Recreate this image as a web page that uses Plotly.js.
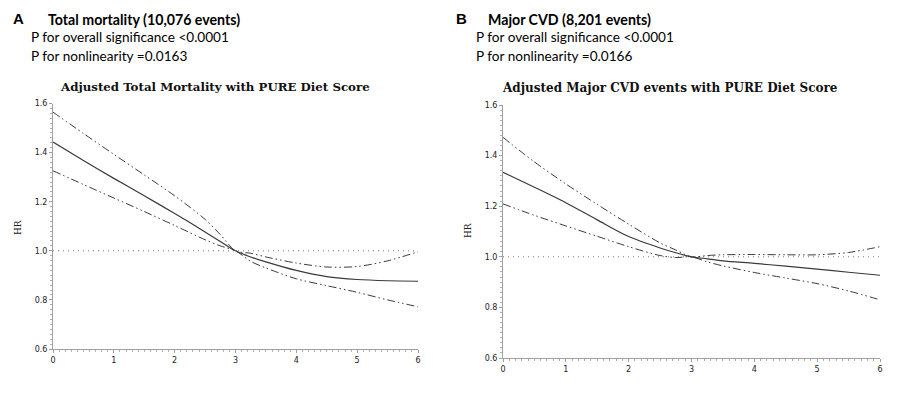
<!DOCTYPE html>
<html>
<head>
<meta charset="utf-8">
<script src="https://cdn.plot.ly/plotly-3.0.1.min.js"></script>
<style>
  html, body { margin: 0; padding: 0; background: #ffffff; }
  #chart { width: 907px; height: 395px; }
</style>
</head>
<body>
<div id="chart"></div>
<script>
// ---------- data ----------
const dietScore = [0, 0.5, 1, 1.5, 2, 2.5, 2.75, 3, 3.25, 3.5, 4, 4.5, 5, 5.5, 6];

// Panel A: Total mortality
const mortHR    = [1.443, 1.368, 1.295, 1.224, 1.152, 1.077, 1.038, 1.0, 0.975, 0.955, 0.920, 0.895, 0.883, 0.878, 0.876];
const mortUpper = [1.565, 1.478, 1.393, 1.309, 1.224, 1.128, 1.066, 1.0, 0.990, 0.975, 0.950, 0.934, 0.936, 0.959, 0.996];
const mortLower = [1.326, 1.270, 1.215, 1.160, 1.103, 1.045, 1.020, 1.0, 0.957, 0.930, 0.886, 0.858, 0.831, 0.800, 0.772];

// Panel B: Major CVD
const cvdHR    = [1.334, 1.275, 1.214, 1.146, 1.080, 1.035, 1.016, 1.0, 0.992, 0.984, 0.974, 0.963, 0.951, 0.939, 0.927];
const cvdUpper = [1.472, 1.375, 1.288, 1.207, 1.129, 1.055, 1.027, 1.0, 1.005, 1.008, 1.009, 1.008, 1.008, 1.017, 1.040];
const cvdLower = [1.209, 1.164, 1.122, 1.081, 1.040, 1.005, 0.997, 1.0, 0.980, 0.964, 0.938, 0.916, 0.894, 0.865, 0.830];

const refHR = [1.0, 1.0];
const refX  = [0, 6];

const panelLetters = ["A", "B"];
const panelHeads   = ["Total mortality (10,076 events)", "Major CVD (8,201 events)"];
const pOverall     = ["P for overall significance <0.0001", "P for overall significance <0.0001"];
const pNonlin      = ["P for nonlinearity =0.0163", "P for nonlinearity =0.0166"];
const plotTitles   = ["Adjusted Total Mortality with PURE Diet Score", "Adjusted Major CVD events with PURE Diet Score"];
const yTitle = "HR";
const yTicks = [0.6, 0.8, 1.0, 1.2, 1.4, 1.6];
const yTickText = ["0.6", "0.8", "1.0", "1.2", "1.4", "1.6"];
const xTicks = [0, 1, 2, 3, 4, 5, 6];

// ---------- drawing ----------
const W = 907, H = 395;
const lineCol = "#3a3a3a";
const ciDash = "8px,3px,1.5px,3px,1.5px,3px";

function curve(x, y, xa, ya, dash, width) {
  return { x: x, y: y, xaxis: xa, yaxis: ya, type: "scatter", mode: "lines",
           line: { color: lineCol, width: width, dash: dash, shape: "spline", smoothing: 0.8 },
           hoverinfo: "skip", showlegend: false };
}
function refLine(xa, ya) {
  return { x: refX, y: refHR, xaxis: xa, yaxis: ya, type: "scatter", mode: "lines",
           line: { color: "#777", width: 1, dash: "1px,4px" }, hoverinfo: "skip", showlegend: false };
}

const traces = [
  refLine("x", "y"),
  curve(dietScore, mortUpper, "x", "y", ciDash, 1),
  curve(dietScore, mortLower, "x", "y", ciDash, 1),
  curve(dietScore, mortHR, "x", "y", "solid", 1.2),
  refLine("x2", "y2"),
  curve(dietScore, cvdUpper, "x2", "y2", ciDash, 1),
  curve(dietScore, cvdLower, "x2", "y2", ciDash, 1),
  curve(dietScore, cvdHR, "x2", "y2", "solid", 1.2)
];

const tickFont = { family: "DejaVu Sans", size: 8, color: "#222" };
function xAx(d0, d1, anchor) {
  return { domain: [d0 / W, d1 / W], anchor: anchor, range: [0, 6], tickvals: xTicks,
           showline: true, linecolor: "#a0a0a0", linewidth: 1, ticks: "outside", ticklen: 3,
           tickcolor: "#a0a0a0", tickfont: tickFont, showgrid: false, zeroline: false,
           minor: { ticks: "outside", ticklen: 2, dtick: 0.1, tickcolor: "#b0b0b0", showgrid: false },
           fixedrange: true };
}
function yAx(bottomPx, topPx, anchor) {
  return { domain: [(H - bottomPx) / H, (H - topPx) / H], anchor: anchor, range: [0.6, 1.6],
           tickvals: yTicks, ticktext: yTickText,
           showline: true, linecolor: "#a0a0a0", linewidth: 1, ticks: "outside", ticklen: 3,
           tickcolor: "#a0a0a0", tickfont: tickFont, showgrid: false, zeroline: false,
           minor: { ticks: "outside", ticklen: 2, dtick: 0.02, tickcolor: "#b0b0b0", showgrid: false },
           fixedrange: true };
}

const txtFont = "Lato, 'Open Sans', sans-serif";
function ann(text, xpx, ypx, font, xanchor, extra) {
  return Object.assign({ text: text, xref: "paper", yref: "paper", x: xpx / W, y: 1 - ypx / H,
           xanchor: xanchor || "left", yanchor: "middle", showarrow: false, font: font }, extra || {});
}

const annotations = [];
const letterX = [11, 454], headX = [46, 486], pX = [29, 474];
const titleCX = [215, 670], titleY = [87, 88];
const titleSize = [11.8, 12];
const hrX = [18, 468], hrY = [228, 231];
for (let i = 0; i < 2; i++) {
  annotations.push(ann("<b>" + panelLetters[i] + "</b>", letterX[i], 18,
    { family: "Liberation Sans", size: 15, color: "#000" }));
  annotations.push(ann("<b>" + panelHeads[i] + "</b>", headX[i], 19,
    { family: txtFont, size: 14.2, color: "#000" }));
  annotations.push(ann(pOverall[i], pX[i], 37, { family: txtFont, size: 13.6, color: "#000" }));
  annotations.push(ann(pNonlin[i], pX[i], 56, { family: txtFont, size: 13.6, color: "#000" }));
  annotations.push(ann("<b>" + plotTitles[i] + "</b>", titleCX[i], titleY[i],
    { family: "DejaVu Serif", size: titleSize[i], color: "#111" }, "center"));
  annotations.push(ann(yTitle, hrX[i], hrY[i], { family: "DejaVu Serif", size: 9, color: "#222" },
    "center", { textangle: -90 }));
}

const layout = {
  width: W, height: H, margin: { l: 0, r: 0, t: 0, b: 0 },
  paper_bgcolor: "#ffffff", plot_bgcolor: "#ffffff",
  showlegend: false,
  xaxis: xAx(53, 418, "y"),
  yaxis: yAx(349, 103.5, "x"),
  xaxis2: xAx(503, 880, "y2"),
  yaxis2: yAx(358, 105, "x2"),
  annotations: annotations
};

Plotly.newPlot("chart", traces, layout, { staticPlot: true, displayModeBar: false });
</script>
</body>
</html>
